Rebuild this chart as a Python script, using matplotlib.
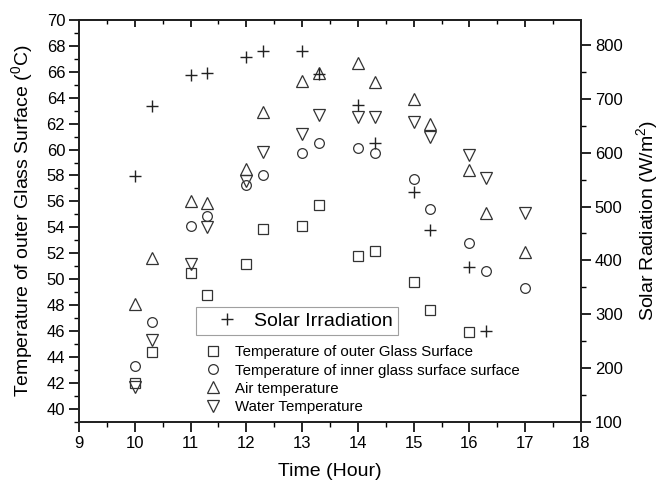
import matplotlib
matplotlib.use("Agg")
import matplotlib.pyplot as plt
from matplotlib.ticker import MultipleLocator

plt.rcParams['font.family'] = ['Liberation Sans', 'DejaVu Sans']
plt.rcParams['mathtext.fontset'] = 'custom'
plt.rcParams['mathtext.rm'] = 'Liberation Sans'
plt.rcParams['mathtext.it'] = 'Liberation Sans:italic'

# time of day (hours)
hours = [10, 10.3, 11, 11.3, 12, 12.3, 13, 13.3, 14, 14.3, 15, 15.3, 16, 16.3, 17]

# left axis series (deg C)
outer_glass = [42.0, 44.4, 50.5, 48.8, 51.2, 53.9, 54.1, 55.7, 51.8, 52.2, 49.8, 47.6, 45.9]
inner_glass = [43.3, 46.7, 54.1, 54.9, 57.3, 58.0, 59.7, 60.5, 60.1, 59.7, 57.7, 55.4, 52.8, 50.6, 49.3]
air_temp = [48.1, 51.6, 56.0, 55.9, 58.5, 62.9, 65.3, 65.9, 66.7, 65.2, 63.9, 62.0, 58.4, 55.1, 52.1]
water_temp = [41.7, 45.3, 51.2, 54.0, 57.6, 59.8, 61.2, 62.7, 62.5, 62.5, 62.1, 61.0, 59.6, 57.8, 55.1]

# right axis series (W/m2)
solar = [557, 687, 745, 748, 778, 789, 789, 746, 688, 618, 527, 457, 387, 269]

fig = plt.figure(figsize=(6.63, 4.82), dpi=100)
ax = fig.add_axes([0.1192, 0.1252, 0.7571, 0.8333])
ax2 = ax.twinx()

edge = dict(linestyle='none', mfc='none', mec='#333333', mew=0.9)
h_sq, = ax.plot(hours[:len(outer_glass)], outer_glass, marker='s', ms=6.5, **edge)
h_ci, = ax.plot(hours, inner_glass, marker='o', ms=7, **edge)
h_up, = ax.plot(hours, air_temp, marker='^', ms=8, **edge)
h_dn, = ax.plot(hours, water_temp, marker='v', ms=8, **edge)
h_pl, = ax2.plot(hours[:len(solar)], solar, marker='+', linestyle='none',
                 color='#222222', ms=9, mew=1.0)

ax.set_xlim(9, 18)
ax.set_ylim(39, 70)
ax2.set_ylim(100, 847)

ax.xaxis.set_major_locator(MultipleLocator(1))
ax.xaxis.set_minor_locator(MultipleLocator(0.5))
ax.set_yticks(range(40, 71, 2))
ax.yaxis.set_minor_locator(MultipleLocator(1))
ax2.yaxis.set_major_locator(MultipleLocator(100))
ax2.yaxis.set_minor_locator(MultipleLocator(50))

for a in (ax, ax2):
    for s in a.spines.values():
        s.set_linewidth(1.3)
        s.set_color('#222222')

ax.tick_params(axis='x', which='major', direction='out', length=7, width=1.2, labelsize=12, pad=3)
ax.tick_params(axis='x', which='minor', direction='out', length=3.5, width=1.0)
ax.tick_params(axis='y', which='major', direction='out', length=7, width=1.2, labelsize=12, pad=3)
ax.tick_params(axis='y', which='minor', direction='out', length=3.5, width=1.0)
ax2.tick_params(axis='y', which='major', direction='out', length=7, width=1.2, labelsize=12, pad=3)
ax2.tick_params(axis='y', which='minor', direction='out', length=3.5, width=1.0)

# top ticks point inward
top = ax.secondary_xaxis('top')
top.xaxis.set_major_locator(MultipleLocator(1))
top.xaxis.set_minor_locator(MultipleLocator(0.5))
top.tick_params(which='major', direction='in', length=5, width=1.2, labeltop=False)
top.tick_params(which='minor', direction='in', length=3, width=1.0)
top.spines['top'].set_linewidth(1.3)

ax.set_xlabel('Time (Hour)', fontsize=14, labelpad=9)
ax.set_ylabel('Temperature of outer Glass Surface ($^{0}$C)', fontsize=14, labelpad=8)
ax2.set_ylabel('Solar Radiation (W/m$^{2}$)', fontsize=14, labelpad=8)

leg1 = ax2.legend([h_pl], ['Solar Irradiation'], loc='upper left',
                  bbox_to_anchor=(0.233, 0.285), fontsize=14, frameon=True,
                  fancybox=False, edgecolor='#888888', borderpad=0.25,
                  handletextpad=0.05, handlelength=2.7, borderaxespad=0)
leg1.get_frame().set_linewidth(0.8)

leg2 = ax2.legend([h_sq, h_ci, h_up, h_dn],
                  ['Temperature of outer Glass Surface',
                   'Temperature of inner glass surface surface',
                   'Air temperature', 'Water Temperature'],
                  loc='upper left', bbox_to_anchor=(0.249, 0.19), fontsize=10.8,
                  frameon=False, labelspacing=0.28, handletextpad=0.87,
                  handlelength=1.2, borderaxespad=0, borderpad=0)
ax2.add_artist(leg1)

fig.savefig('out.png', dpi=100)
